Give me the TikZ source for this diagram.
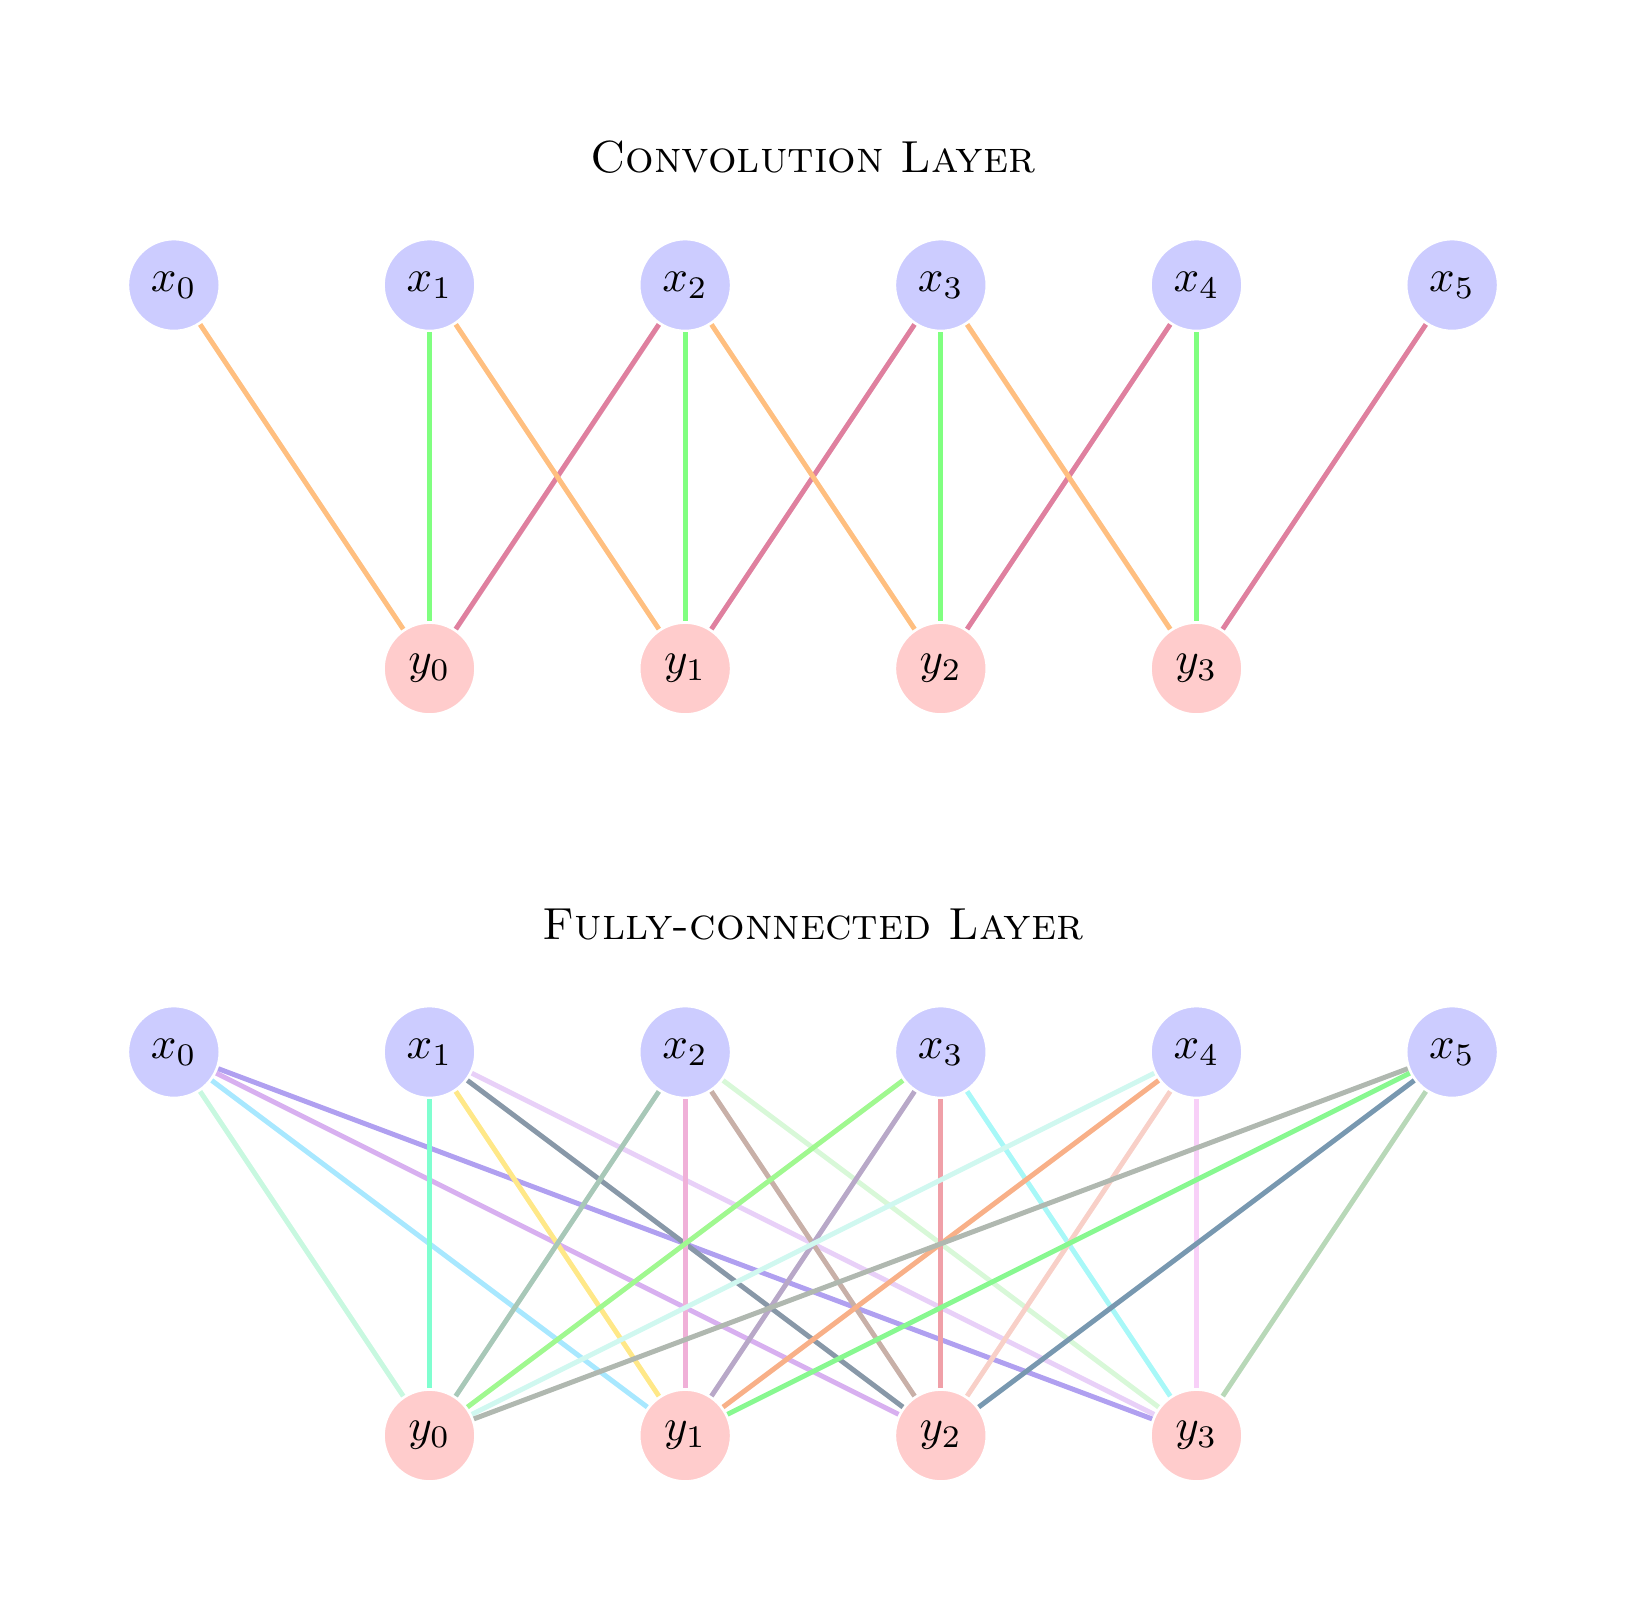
\documentclass[tikz,border=0pt]{standalone}
\begin{document}
\begin{tikzpicture}[
  neuron/.style={circle, minimum size=0.72cm, inner sep=0pt, draw=white, line width=0.6pt},
  xin/.style={neuron, fill=blue!20},
  yout/.style={neuron, fill=red!20},
  edge/.style={line width=1.1pt},
  title/.style={font=\scshape}
]
\useasboundingbox (-1.36,2.23) rectangle (11.36,-10.354);
\definecolor{c00}{HTML}{C8F8E0}
\definecolor{c01}{HTML}{A8E8FF}
\definecolor{c02}{HTML}{D8B0F0}
\definecolor{c03}{HTML}{B0A0F0}
\definecolor{c10}{HTML}{80FFD0}
\definecolor{c11}{HTML}{FFE888}
\definecolor{c12}{HTML}{8898A8}
\definecolor{c13}{HTML}{E8D0F8}
\definecolor{c20}{HTML}{A8C8B8}
\definecolor{c21}{HTML}{F0B0D8}
\definecolor{c22}{HTML}{C8B0A8}
\definecolor{c23}{HTML}{D8F8D8}
\definecolor{c30}{HTML}{A0F890}
\definecolor{c31}{HTML}{B8A8C8}
\definecolor{c32}{HTML}{F0A0A8}
\definecolor{c33}{HTML}{A8F8F8}
\definecolor{c40}{HTML}{D0F8F0}
\definecolor{c41}{HTML}{F8B088}
\definecolor{c42}{HTML}{F8D0C8}
\definecolor{c43}{HTML}{F8D0F8}
\definecolor{c50}{HTML}{B0B8B0}
\definecolor{c51}{HTML}{88F890}
\definecolor{c52}{HTML}{7898B0}
\definecolor{c53}{HTML}{B8D8B8}

% Convolution layer
\node[title] (t1) at (5,1) {Convolution Layer};
\foreach \i in {0,...,5} \node[xin] (a\i) at (2*\i,0) {$x_{\i}$};
\foreach \j in {0,...,3} \node[yout] (b\j) at (2*\j+2,-3) {$y_{\j}$};
\foreach \j [evaluate=\j as \k using int(\j+1), evaluate=\j as \m using int(\j+2)] in {0,...,3} {
  \draw[edge, orange!50] (a\j) -- (b\j);
  \draw[edge, green!50] (a\k) -- (b\j);
  \draw[edge, purple!50] (a\m) -- (b\j);
}

% Fully-connected layer
\node[title] (t2) at (5,-5) {Fully-connected Layer};
\foreach \i in {0,...,5} \node[xin] (p\i) at (2*\i,-6) {$x_{\i}$};
\foreach \j in {0,...,3} \node[yout] (q\j) at (2*\j+2,-9) {$y_{\j}$};
\foreach \i in {0,...,5} \foreach \j in {0,...,3} {
  \draw[edge, color=c\i\j] (p\i) -- (q\j);
}
\end{tikzpicture}
\end{document}
